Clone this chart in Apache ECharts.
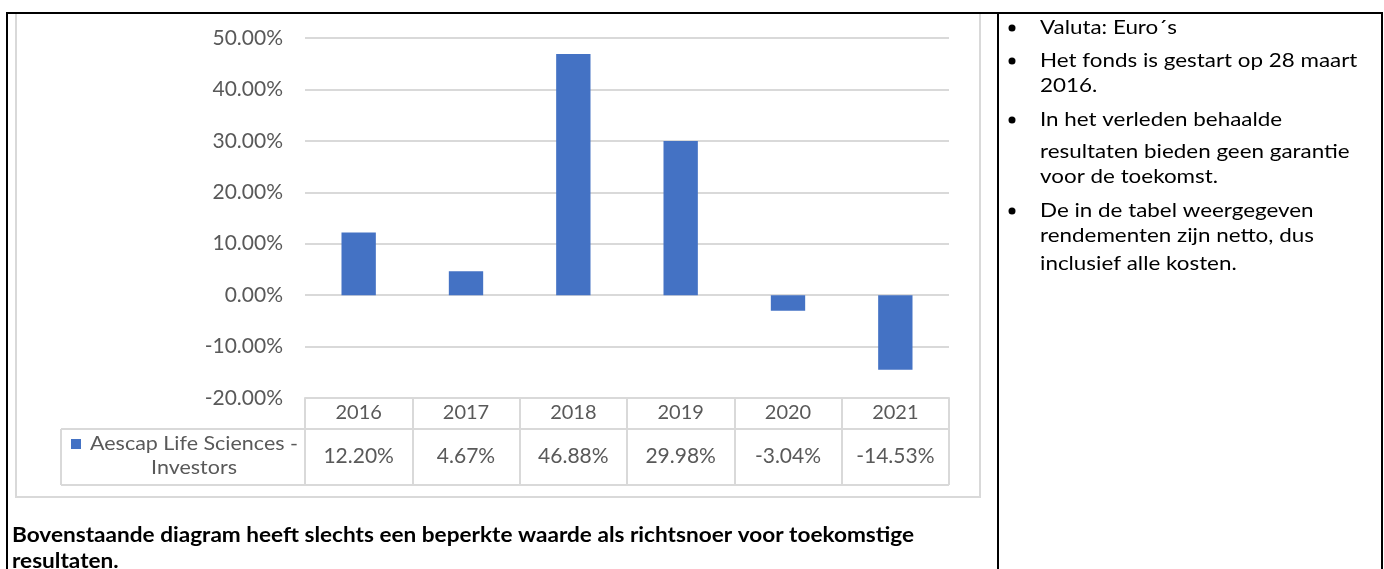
<!DOCTYPE html>
<html>
<head>
<meta charset="utf-8">
<script src="https://cdn.jsdelivr.net/npm/echarts@6/dist/echarts.min.js"></script>
<style>
html,body{margin:0;padding:0;background:#fff;}
#c{width:1384px;height:569px;}
</style>
</head>
<body>
<div id="c"></div>
<script>
// ---- data ----
const years = ['2016', '2017', '2018', '2019', '2020', '2021'];
const returns = [12.20, 4.67, 46.88, 29.98, -3.04, -14.53];
const seriesName = 'Aescap Life Sciences - Investors';
const legendLines = ['Aescap Life Sciences -', 'Investors'];
const yMin = -20, yMax = 50, yStep = 10;
const notes = [
  ['Valuta: Euro\u00B4s'],
  ['Het fonds is gestart op 28 maart', '2016.'],
  ['In het verleden behaalde', 'resultaten bieden geen garantie', 'voor de toekomst.'],
  ['De in de tabel weergegeven', 'rendementen zijn netto, dus', 'inclusief alle kosten.']
];
const footLines = ['Bovenstaande diagram heeft slechts een beperkte waarde als richtsnoer voor toekomstige', 'resultaten.'];

// ---- layout ----
const FONT = 'Lato, "Open Sans", sans-serif';
const gridL = 305, gridR = 949, gridT = 38, gridB = 398;
const rowMid = 429, rowBot = 485, legL = 61;
const lineGray = '#d9d9d9';
const textGray = '#595959';
const barBlue = '#4472c4';

const fmtPct = v => v.toFixed(2) + '%';

const graphics = [];
// chart area frame
graphics.push({type:'rect', shape:{x:16, y:13, width:964, height:484}, style:{fill:'none', stroke:lineGray, lineWidth:2}, silent:true});
// table lines
graphics.push({type:'line', shape:{x1:legL, y1:rowMid, x2:gridR, y2:rowMid}, style:{stroke:lineGray, lineWidth:2}});
graphics.push({type:'line', shape:{x1:legL, y1:rowBot, x2:gridR, y2:rowBot}, style:{stroke:lineGray, lineWidth:2}});
graphics.push({type:'line', shape:{x1:legL, y1:rowMid, x2:legL, y2:rowBot}, style:{stroke:lineGray, lineWidth:2}});
// legend key in table
graphics.push({type:'rect', shape:{x:71, y:439, width:10, height:10}, style:{fill:barBlue}});
graphics.push({type:'text', x:194, y:444, scaleX:1.13, style:{text:legendLines[0], font:'19px ' + FONT, fill:textGray, align:'center', verticalAlign:'middle'}});
graphics.push({type:'text', x:194, y:468, scaleX:1.13, style:{text:legendLines[1], font:'19px ' + FONT, fill:textGray, align:'center', verticalAlign:'middle'}});
// outer document borders
graphics.push({type:'line', shape:{x1:6, y1:13, x2:1383, y2:13}, style:{stroke:'#000', lineWidth:2}});
graphics.push({type:'line', shape:{x1:7, y1:12, x2:7, y2:569}, style:{stroke:'#000', lineWidth:2}});
graphics.push({type:'line', shape:{x1:1382, y1:12, x2:1382, y2:569}, style:{stroke:'#000', lineWidth:2}});
graphics.push({type:'line', shape:{x1:998, y1:12, x2:998, y2:569}, style:{stroke:'#000', lineWidth:2}});
// notes
const lineYs = [[28], [61, 86], [120, 152, 177], [211, 236, 264]];
notes.forEach((item, i) => {
  graphics.push({type:'circle', shape:{cx:1012, cy:lineYs[i][0], r:3.5}, style:{fill:'#000'}});
  item.forEach((t, j) => {
    graphics.push({type:'text', x:1040, y:lineYs[i][j], scaleX:1.12, style:{text:t, font:'20px ' + FONT, fill:'#000', verticalAlign:'middle'}});
  });
});
// footer
footLines.forEach((t, j) => {
  graphics.push({type:'text', x:12, y:536 + j * 26, scaleX:1.13, style:{text:t, font:'bold 20px ' + FONT, fill:'#000', verticalAlign:'middle'}});
});

const chart = echarts.init(document.getElementById('c'), null, {renderer:'canvas', width:1384, height:569});
chart.setOption({
  animation:false,
  backgroundColor:'#fff',
  textStyle:{fontFamily:FONT},
  grid:{left:gridL, right:1384 - gridR, top:gridT, bottom:569 - gridB, containLabel:false},
  xAxis:[{
    type:'category', data:years, position:'bottom',
    axisLine:{show:true, onZero:false, lineStyle:{color:lineGray, width:2}},
    axisTick:{show:true, alignWithLabel:false, inside:false, length:rowBot - gridB, lineStyle:{color:lineGray, width:2}},
    axisLabel:{color:textGray, fontSize:20, fontFamily:FONT, margin:3, lineHeight:24, interval:0}
  },{
    type:'category', data:years, position:'bottom', offset:0,
    axisLine:{show:false}, axisTick:{show:false}, splitLine:{show:false},
    axisLabel:{color:textGray, fontSize:21, fontFamily:FONT, margin:46, lineHeight:24, interval:0,
      formatter:(v, i) => fmtPct(returns[i])}
  }],
  yAxis:{
    type:'value', min:yMin, max:yMax, interval:yStep,
    axisLine:{show:false}, axisTick:{show:false},
    splitLine:{show:true, lineStyle:{color:lineGray, width:2}},
    axisLabel:{color:textGray, fontSize:21, fontFamily:FONT, margin:22, formatter:v => fmtPct(v)}
  },
  series:[{
    name:seriesName, type:'bar', data:returns, barWidth:'32%',
    itemStyle:{color:barBlue}, xAxisIndex:0
  }],
  graphic:graphics
});
</script>
</body>
</html>
